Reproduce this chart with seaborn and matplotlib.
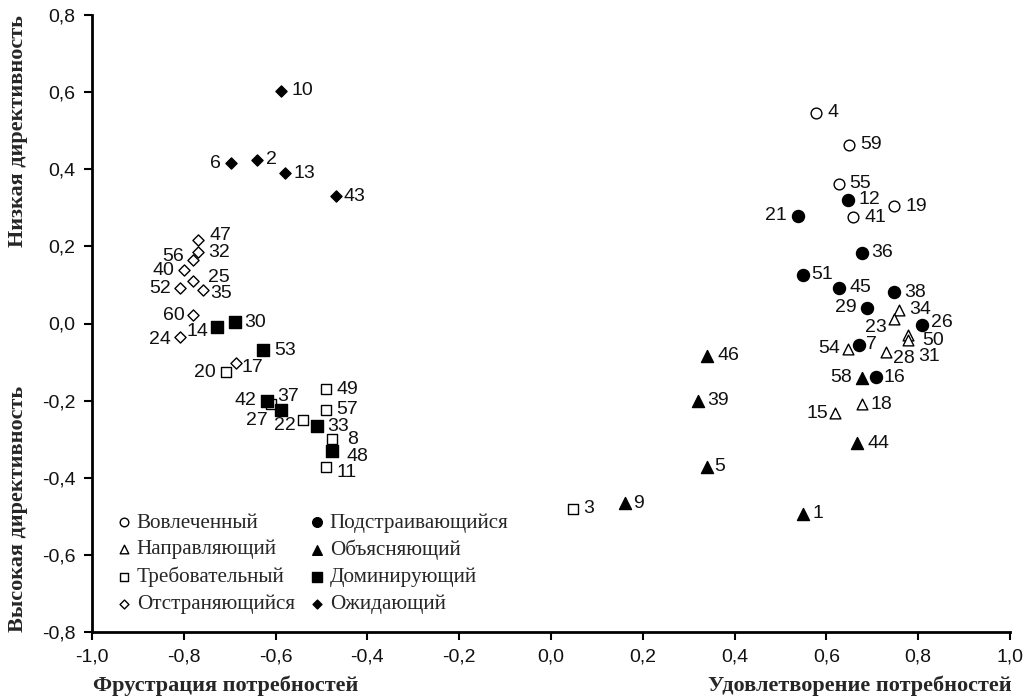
import matplotlib
matplotlib.use("Agg")
import matplotlib.pyplot as plt
import seaborn as sns
import pandas as pd
from matplotlib.ticker import FuncFormatter

# ---------------- data ----------------
invol_id = [4, 59, 55, 41, 19]
invol_x = [0.577, 0.649, 0.628, 0.659, 0.748]
invol_y = [0.547, 0.464, 0.363, 0.275, 0.304]

adapt_id = [12, 21, 36, 51, 45, 38, 29, 26, 7, 16]
adapt_x = [0.648, 0.539, 0.678, 0.548, 0.628, 0.748, 0.689, 0.809, 0.670, 0.708]
adapt_y = [0.321, 0.279, 0.184, 0.126, 0.093, 0.081, 0.041, -0.003, -0.055, -0.139]

guide_id = [34, 23, 50, 31, 54, 28, 18, 15]
guide_x = [0.759, 0.748, 0.778, 0.778, 0.648, 0.729, 0.677, 0.619]
guide_y = [0.036, 0.012, -0.031, -0.044, -0.066, -0.074, -0.209, -0.233]

expl_id = [58, 46, 39, 5, 44, 9, 1]
expl_x = [0.677, 0.339, 0.320, 0.339, 0.667, 0.161, 0.550]
expl_y = [-0.141, -0.083, -0.200, -0.371, -0.310, -0.466, -0.494]

dem_id = [20, 49, 57, 37, 22, 8, 11, 3]
dem_x = [-0.708, -0.491, -0.491, -0.609, -0.540, -0.478, -0.491, 0.049]
dem_y = [-0.126, -0.170, -0.224, -0.209, -0.250, -0.300, -0.373, -0.481]

dom_id = [14, 30, 53, 42, 27, 33, 48]
dom_x = [-0.728, -0.688, -0.628, -0.618, -0.589, -0.510, -0.478]
dom_y = [-0.008, 0.003, -0.070, -0.200, -0.224, -0.267, -0.330]

detach_id = [47, 32, 56, 40, 25, 52, 35, 60, 24, 17]
detach_x = [-0.768, -0.768, -0.779, -0.799, -0.779, -0.808, -0.759, -0.779, -0.808, -0.687]
detach_y = [0.217, 0.185, 0.164, 0.138, 0.109, 0.092, 0.088, 0.021, -0.036, -0.103]

wait_id = [10, 6, 2, 13, 43]
wait_x = [-0.588, -0.698, -0.640, -0.579, -0.469]
wait_y = [0.603, 0.416, 0.423, 0.390, 0.330]

group_names = ["Вовлеченный", "Направляющий", "Требовательный", "Отстраняющийся",
               "Подстраивающийся", "Объясняющий", "Доминирующий", "Ожидающий"]

x_ticks = [-1.0, -0.8, -0.6, -0.4, -0.2, 0.0, 0.2, 0.4, 0.6, 0.8, 1.0]
y_ticks = [-0.8, -0.6, -0.4, -0.2, 0.0, 0.2, 0.4, 0.6, 0.8]

# label placement (pixels): negative dx -> text placed to the left of point
label_off = {
    6: (-10, 0), 2: (9, 1), 13: (8, 0), 10: (10, 0), 43: (8, 0),
    47: (11, 4), 32: (10, 0), 56: (-9, 4), 40: (-10, 0), 25: (15, 4), 52: (-9, 0),
    35: (8, -4), 60: (-9, 0), 24: (-9, -2), 14: (-8, -5), 30: (9, 0), 53: (11, 0),
    17: (6, -4), 20: (-10, 0),
    49: (11, 0), 57: (11, 0), 42: (-11, 0), 37: (6, 8), 27: (-13, -11), 22: (-7, -6),
    33: (10, 0), 8: (16, 0), 48: (15, -6), 11: (11, -5),
    51: (9, 0), 45: (10, 0), 38: (10, 0), 29: (-11, 0), 34: (10, 0), 23: (-8, -9),
    26: (9, 2), 50: (14, -5), 31: (10, -16), 54: (-8, 0), 7: (7, 0), 28: (7, -6),
    58: (-10, 0), 16: (8, 0), 18: (9, 0), 15: (-7, 0),
    4: (12, 0), 59: (11, 0), 55: (10, 0), 12: (10, 0), 19: (11, 0), 41: (11, 0),
    36: (9, 0), 21: (-12, 0),
    46: (11, 0), 39: (9, 0), 5: (8, 0), 9: (8, 0), 3: (10, 0), 1: (9, 0), 44: (10, 0),
}

# ---------------- figure ----------------
sns.set_theme(style="white")
plt.rcParams["font.family"] = ["Liberation Sans", "DejaVu Sans"]

fig = plt.figure(figsize=(10.35, 6.97), dpi=100)
ax = fig.add_axes([92 / 1035, 65 / 697, 918 / 1035, 617 / 697])

groups = [
    ("Вовлеченный", invol_id, invol_x, invol_y, "o", "white", 60),
    ("Направляющий", guide_id, guide_x, guide_y, "^", "white", 60),
    ("Требовательный", dem_id, dem_x, dem_y, "s", "white", 60),
    ("Отстраняющийся", detach_id, detach_x, detach_y, "D", "white", 32),
    ("Подстраивающийся", adapt_id, adapt_x, adapt_y, "o", "black", 75),
    ("Объясняющий", expl_id, expl_x, expl_y, "^", "black", 75),
    ("Доминирующий", dom_id, dom_x, dom_y, "s", "black", 70),
    ("Ожидающий", wait_id, wait_x, wait_y, "D", "black", 32),
]

for name, ids, xs, ys, mk, fc, s in groups:
    df = pd.DataFrame({"x": xs, "y": ys})
    sns.scatterplot(data=df, x="x", y="y", marker=mk, s=s, color=fc,
                    edgecolor="black", linewidth=1.0, ax=ax, label=name, zorder=3)
    for i, xv, yv in zip(ids, xs, ys):
        dx, dy = label_off.get(i, (8, 0))
        ha = "right" if dx < 0 else "left"
        ax.annotate(str(i), (xv, yv), xytext=(dx, dy), textcoords="offset pixels",
                    ha=ha, va="center", fontsize=14, color="#111111", zorder=4)

ax.set_xlim(-1.0, 1.0)
ax.set_ylim(-0.8, 0.8)
ax.set_xticks(x_ticks)
ax.set_yticks(y_ticks)
fmt = FuncFormatter(lambda v, p: f"{round(v, 1) + 0.0:.1f}".replace(".", ","))
ax.xaxis.set_major_formatter(fmt)
ax.yaxis.set_major_formatter(fmt)
ax.tick_params(axis="both", direction="out", length=6, width=1.5, color="black",
               labelsize=14, labelcolor="#111111", pad=6,
               bottom=True, left=True)
for side in ["top", "right"]:
    ax.spines[side].set_visible(False)
for side in ["left", "bottom"]:
    ax.spines[side].set_color("black")
    ax.spines[side].set_linewidth(2.0)
ax.set_xlabel("")
ax.set_ylabel("")
ax.grid(False)

# legend
handles, labels = ax.get_legend_handles_labels()
hmap = dict(zip(labels, handles))
leg = ax.legend([hmap[n] for n in group_names], group_names, ncol=2,
                loc="upper left", bbox_to_anchor=(0.012, 0.207), frameon=False,
                prop={"family": "Liberation Serif", "size": 15.2},
                handletextpad=0.0, columnspacing=0.45, labelspacing=0.34,
                handlelength=1.2, markerscale=0.8, borderaxespad=0)

serif_bold = {"family": "Liberation Serif", "weight": "bold", "size": 16}
fig.text(93 / 1035, 1 - 686 / 697, "Фрустрация потребностей", ha="left", va="center",
         fontdict=serif_bold)
fig.text(1012 / 1035, 1 - 686 / 697, "Удовлетворение потребностей", ha="right",
         va="center", fontdict=serif_bold)
fig.text(18 / 1035, 1 - 15 / 697, "Низкая директивность", ha="center", va="top",
         rotation=90, fontdict=serif_bold)
fig.text(18 / 1035, 65 / 697, "Высокая директивность", ha="center", va="bottom",
         rotation=90, fontdict=serif_bold)

fig.savefig("out.png", dpi=100, facecolor="white")
